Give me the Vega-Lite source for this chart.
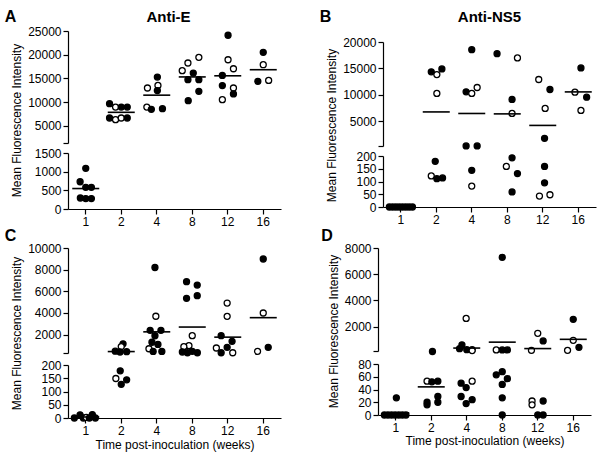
{
  "$schema": "https://vega.github.io/schema/vega-lite/v6.json",
  "background": "white",
  "padding": {"left": 4, "top": 9, "right": 4, "bottom": 2},
  "config": {
    "view": {"stroke": null},
    "font": "Liberation Sans",
    "axis": {"domainColor": "black", "tickColor": "black", "labelColor": "black", "titleColor": "black", "labelFontSize": 12, "titleFontSize": 12, "titleFontWeight": "normal", "grid": false, "tickSize": 5, "domainWidth": 1.2, "tickWidth": 1.2, "labelPadding": 2, "labelOverlap": false, "labelFont": "Liberation Sans", "titleFont": "Liberation Sans"},
    "title": {"color": "black", "font": "Liberation Sans", "fontWeight": "bold"},
    "tick": {"opacity": 1}
  },
  "datasets": {
    "pts": [
      {"panel":"A","week":1,"mfi":1090,"ring":"filled","slot":0},
      {"panel":"A","week":1,"mfi":730,"ring":"filled","slot":-0.94},
      {"panel":"A","week":1,"mfi":580,"ring":"filled","slot":0},
      {"panel":"A","week":1,"mfi":580,"ring":"filled","slot":0.94},
      {"panel":"A","week":1,"mfi":295,"ring":"filled","slot":-0.9},
      {"panel":"A","week":1,"mfi":280,"ring":"filled","slot":0},
      {"panel":"A","week":1,"mfi":280,"ring":"filled","slot":0.94},
      {"panel":"A","week":2,"mfi":9690,"ring":"filled","slot":-1.95},
      {"panel":"A","week":2,"mfi":8990,"ring":"open","slot":-0.95},
      {"panel":"A","week":2,"mfi":8990,"ring":"filled","slot":0},
      {"panel":"A","week":2,"mfi":8990,"ring":"filled","slot":1},
      {"panel":"A","week":2,"mfi":6680,"ring":"filled","slot":-1.95},
      {"panel":"A","week":2,"mfi":6330,"ring":"open","slot":-0.95},
      {"panel":"A","week":2,"mfi":6680,"ring":"open","slot":0},
      {"panel":"A","week":2,"mfi":6680,"ring":"filled","slot":1},
      {"panel":"A","week":4,"mfi":15300,"ring":"filled","slot":0.1},
      {"panel":"A","week":4,"mfi":13000,"ring":"open","slot":-1.55},
      {"panel":"A","week":4,"mfi":13550,"ring":"open","slot":0.2},
      {"panel":"A","week":4,"mfi":12450,"ring":"filled","slot":0.1},
      {"panel":"A","week":4,"mfi":8990,"ring":"open","slot":-1.65},
      {"panel":"A","week":4,"mfi":8500,"ring":"filled","slot":-0.9},
      {"panel":"A","week":4,"mfi":8650,"ring":"filled","slot":0.95},
      {"panel":"A","week":8,"mfi":16650,"ring":"open","slot":-1.67},
      {"panel":"A","week":8,"mfi":18260,"ring":"open","slot":-0.72},
      {"panel":"A","week":8,"mfi":19450,"ring":"open","slot":1.1},
      {"panel":"A","week":8,"mfi":16150,"ring":"filled","slot":0.17},
      {"panel":"A","week":8,"mfi":14750,"ring":"filled","slot":-0.72},
      {"panel":"A","week":8,"mfi":14750,"ring":"filled","slot":1.1},
      {"panel":"A","week":8,"mfi":12300,"ring":"filled","slot":1.1},
      {"panel":"A","week":8,"mfi":10330,"ring":"filled","slot":-0.67},
      {"panel":"A","week":12,"mfi":24100,"ring":"filled","slot":0.05},
      {"panel":"A","week":12,"mfi":18950,"ring":"open","slot":0.05},
      {"panel":"A","week":12,"mfi":17050,"ring":"open","slot":0.95},
      {"panel":"A","week":12,"mfi":15650,"ring":"filled","slot":-0.9},
      {"panel":"A","week":12,"mfi":13500,"ring":"filled","slot":-0.9},
      {"panel":"A","week":12,"mfi":13000,"ring":"open","slot":0.95},
      {"panel":"A","week":12,"mfi":11750,"ring":"filled","slot":0.95},
      {"panel":"A","week":12,"mfi":10550,"ring":"open","slot":-0.9},
      {"panel":"A","week":16,"mfi":20500,"ring":"filled","slot":0},
      {"panel":"A","week":16,"mfi":17900,"ring":"open","slot":0},
      {"panel":"A","week":16,"mfi":14400,"ring":"filled","slot":-0.9},
      {"panel":"A","week":16,"mfi":14600,"ring":"open","slot":0.9},

      {"panel":"B","week":1,"mfi":0,"ring":"filled","slot":-1.9},
      {"panel":"B","week":1,"mfi":0,"ring":"filled","slot":-1.35},
      {"panel":"B","week":1,"mfi":0,"ring":"filled","slot":-0.8},
      {"panel":"B","week":1,"mfi":0,"ring":"filled","slot":-0.25},
      {"panel":"B","week":1,"mfi":0,"ring":"filled","slot":0.3},
      {"panel":"B","week":1,"mfi":0,"ring":"filled","slot":0.85},
      {"panel":"B","week":1,"mfi":0,"ring":"filled","slot":1.4},
      {"panel":"B","week":1,"mfi":0,"ring":"filled","slot":1.95},
      {"panel":"B","week":2,"mfi":14330,"ring":"filled","slot":-0.83},
      {"panel":"B","week":2,"mfi":14890,"ring":"filled","slot":0.94},
      {"panel":"B","week":2,"mfi":13820,"ring":"open","slot":0.1},
      {"panel":"B","week":2,"mfi":10230,"ring":"open","slot":0.1},
      {"panel":"B","week":2,"mfi":179,"ring":"filled","slot":-0.17},
      {"panel":"B","week":2,"mfi":122,"ring":"open","slot":-0.83},
      {"panel":"B","week":2,"mfi":111,"ring":"filled","slot":0.1},
      {"panel":"B","week":2,"mfi":114,"ring":"filled","slot":1.05},
      {"panel":"B","week":4,"mfi":18550,"ring":"filled","slot":0},
      {"panel":"B","week":4,"mfi":10540,"ring":"filled","slot":-0.94},
      {"panel":"B","week":4,"mfi":10230,"ring":"open","slot":0},
      {"panel":"B","week":4,"mfi":11360,"ring":"open","slot":0.9},
      {"panel":"B","week":4,"mfi":268,"ring":"filled","slot":-0.94},
      {"panel":"B","week":4,"mfi":272,"ring":"filled","slot":0.9},
      {"panel":"B","week":4,"mfi":144,"ring":"filled","slot":0},
      {"panel":"B","week":4,"mfi":82,"ring":"open","slot":0},
      {"panel":"B","week":8,"mfi":17790,"ring":"filled","slot":-1.7},
      {"panel":"B","week":8,"mfi":16970,"ring":"open","slot":1.7},
      {"panel":"B","week":8,"mfi":9090,"ring":"filled","slot":0.8},
      {"panel":"B","week":8,"mfi":6440,"ring":"open","slot":0.8},
      {"panel":"B","week":8,"mfi":193,"ring":"filled","slot":0.8},
      {"panel":"B","week":8,"mfi":159,"ring":"open","slot":-0.15},
      {"panel":"B","week":8,"mfi":131,"ring":"filled","slot":1.7},
      {"panel":"B","week":8,"mfi":59,"ring":"filled","slot":0.8},
      {"panel":"B","week":12,"mfi":12880,"ring":"open","slot":-0.67},
      {"panel":"B","week":12,"mfi":10980,"ring":"filled","slot":1.2},
      {"panel":"B","week":12,"mfi":7390,"ring":"open","slot":0.4},
      {"panel":"B","week":12,"mfi":1716,"ring":"filled","slot":0.3},
      {"panel":"B","week":12,"mfi":159,"ring":"filled","slot":0.3},
      {"panel":"B","week":12,"mfi":95,"ring":"filled","slot":0.3},
      {"panel":"B","week":12,"mfi":43,"ring":"open","slot":-0.55},
      {"panel":"B","week":12,"mfi":48,"ring":"open","slot":1.2},
      {"panel":"B","week":16,"mfi":15080,"ring":"filled","slot":0.45},
      {"panel":"B","week":16,"mfi":10480,"ring":"open","slot":-0.55},
      {"panel":"B","week":16,"mfi":9530,"ring":"filled","slot":1.4},
      {"panel":"B","week":16,"mfi":7010,"ring":"open","slot":0.45},

      {"panel":"C","week":1,"mfi":0,"ring":"filled","slot":-1.9},
      {"panel":"C","week":1,"mfi":12,"ring":"filled","slot":-0.95},
      {"panel":"C","week":1,"mfi":0,"ring":"filled","slot":-0.4},
      {"panel":"C","week":1,"mfi":2,"ring":"open","slot":0.1},
      {"panel":"C","week":1,"mfi":0,"ring":"filled","slot":0.6},
      {"panel":"C","week":1,"mfi":13,"ring":"filled","slot":1.1},
      {"panel":"C","week":1,"mfi":0,"ring":"filled","slot":1.6},
      {"panel":"C","week":2,"mfi":1150,"ring":"filled","slot":0.3},
      {"panel":"C","week":2,"mfi":900,"ring":"open","slot":0},
      {"panel":"C","week":2,"mfi":480,"ring":"filled","slot":-1.0},
      {"panel":"C","week":2,"mfi":400,"ring":"filled","slot":-0.2},
      {"panel":"C","week":2,"mfi":430,"ring":"filled","slot":0.9},
      {"panel":"C","week":2,"mfi":178,"ring":"filled","slot":-0.17},
      {"panel":"C","week":2,"mfi":149,"ring":"open","slot":-0.9},
      {"panel":"C","week":2,"mfi":144,"ring":"filled","slot":0.9},
      {"panel":"C","week":2,"mfi":127,"ring":"filled","slot":0},
      {"panel":"C","week":4,"mfi":8200,"ring":"filled","slot":-0.3},
      {"panel":"C","week":4,"mfi":3700,"ring":"open","slot":-0.15},
      {"panel":"C","week":4,"mfi":2400,"ring":"filled","slot":-1.1},
      {"panel":"C","week":4,"mfi":2400,"ring":"filled","slot":0.7},
      {"panel":"C","week":4,"mfi":1900,"ring":"filled","slot":-0.3},
      {"panel":"C","week":4,"mfi":1300,"ring":"filled","slot":-0.8},
      {"panel":"C","week":4,"mfi":1100,"ring":"filled","slot":0.2},
      {"panel":"C","week":4,"mfi":700,"ring":"open","slot":-1.3},
      {"panel":"C","week":4,"mfi":450,"ring":"filled","slot":-0.6},
      {"panel":"C","week":4,"mfi":450,"ring":"filled","slot":0.85},
      {"panel":"C","week":8,"mfi":6890,"ring":"filled","slot":-0.95},
      {"panel":"C","week":8,"mfi":6580,"ring":"filled","slot":0.83},
      {"panel":"C","week":8,"mfi":5350,"ring":"filled","slot":-0.95},
      {"panel":"C","week":8,"mfi":5600,"ring":"filled","slot":0.83},
      {"panel":"C","week":8,"mfi":1910,"ring":"open","slot":0},
      {"panel":"C","week":8,"mfi":985,"ring":"open","slot":-0.55},
      {"panel":"C","week":8,"mfi":890,"ring":"open","slot":-1.4},
      {"panel":"C","week":8,"mfi":400,"ring":"filled","slot":-1.65},
      {"panel":"C","week":8,"mfi":330,"ring":"filled","slot":-0.8},
      {"panel":"C","week":8,"mfi":460,"ring":"filled","slot":0},
      {"panel":"C","week":8,"mfi":330,"ring":"filled","slot":0.85},
      {"panel":"C","week":12,"mfi":4920,"ring":"open","slot":-0.1},
      {"panel":"C","week":12,"mfi":3690,"ring":"open","slot":-0.1},
      {"panel":"C","week":12,"mfi":1910,"ring":"filled","slot":-1.1},
      {"panel":"C","week":12,"mfi":1385,"ring":"filled","slot":0.72},
      {"panel":"C","week":12,"mfi":770,"ring":"open","slot":-1.9},
      {"panel":"C","week":12,"mfi":830,"ring":"filled","slot":-0.1},
      {"panel":"C","week":12,"mfi":330,"ring":"filled","slot":-1.1},
      {"panel":"C","week":12,"mfi":330,"ring":"open","slot":0.83},
      {"panel":"C","week":16,"mfi":8985,"ring":"filled","slot":0},
      {"panel":"C","week":16,"mfi":4000,"ring":"open","slot":0},
      {"panel":"C","week":16,"mfi":460,"ring":"open","slot":-0.95},
      {"panel":"C","week":16,"mfi":830,"ring":"filled","slot":0.83},

      {"panel":"D","week":1,"mfi":27,"ring":"filled","slot":0.1},
      {"panel":"D","week":1,"mfi":0,"ring":"filled","slot":-1.9},
      {"panel":"D","week":1,"mfi":0,"ring":"filled","slot":-1.3},
      {"panel":"D","week":1,"mfi":0,"ring":"filled","slot":-0.7},
      {"panel":"D","week":1,"mfi":0,"ring":"filled","slot":-0.1},
      {"panel":"D","week":1,"mfi":0,"ring":"filled","slot":0.5},
      {"panel":"D","week":1,"mfi":0,"ring":"filled","slot":1.1},
      {"panel":"D","week":1,"mfi":0,"ring":"filled","slot":1.7},
      {"panel":"D","week":2,"mfi":110,"ring":"filled","slot":0.2},
      {"panel":"D","week":2,"mfi":53,"ring":"open","slot":-0.7},
      {"panel":"D","week":2,"mfi":52,"ring":"filled","slot":0.1},
      {"panel":"D","week":2,"mfi":53,"ring":"filled","slot":1.1},
      {"panel":"D","week":2,"mfi":29,"ring":"filled","slot":1.1},
      {"panel":"D","week":2,"mfi":20,"ring":"filled","slot":-0.7},
      {"panel":"D","week":2,"mfi":16,"ring":"filled","slot":-0.7},
      {"panel":"D","week":2,"mfi":20,"ring":"filled","slot":1.1},
      {"panel":"D","week":4,"mfi":2636,"ring":"open","slot":-0.1},
      {"panel":"D","week":4,"mfi":620,"ring":"filled","slot":-0.8},
      {"panel":"D","week":4,"mfi":330,"ring":"filled","slot":-1.2},
      {"panel":"D","week":4,"mfi":250,"ring":"filled","slot":0},
      {"panel":"D","week":4,"mfi":250,"ring":"filled","slot":0.9},
      {"panel":"D","week":4,"mfi":180,"ring":"open","slot":0.9},
      {"panel":"D","week":4,"mfi":53,"ring":"open","slot":0.9},
      {"panel":"D","week":4,"mfi":50,"ring":"filled","slot":-0.94},
      {"panel":"D","week":4,"mfi":43,"ring":"filled","slot":-0.1},
      {"panel":"D","week":4,"mfi":29,"ring":"filled","slot":-0.94},
      {"panel":"D","week":4,"mfi":24,"ring":"filled","slot":0.9},
      {"panel":"D","week":4,"mfi":18,"ring":"filled","slot":-0.1},
      {"panel":"D","week":8,"mfi":7290,"ring":"filled","slot":0},
      {"panel":"D","week":8,"mfi":230,"ring":"open","slot":-1.0},
      {"panel":"D","week":8,"mfi":230,"ring":"filled","slot":0},
      {"panel":"D","week":8,"mfi":230,"ring":"filled","slot":0.85},
      {"panel":"D","week":8,"mfi":68,"ring":"filled","slot":0},
      {"panel":"D","week":8,"mfi":63,"ring":"filled","slot":-1.0},
      {"panel":"D","week":8,"mfi":57,"ring":"filled","slot":0.85},
      {"panel":"D","week":8,"mfi":48,"ring":"filled","slot":0},
      {"panel":"D","week":8,"mfi":27,"ring":"filled","slot":0},
      {"panel":"D","week":8,"mfi":0,"ring":"filled","slot":0},
      {"panel":"D","week":12,"mfi":1500,"ring":"open","slot":0},
      {"panel":"D","week":12,"mfi":916,"ring":"filled","slot":0.9},
      {"panel":"D","week":12,"mfi":200,"ring":"open","slot":-1.05},
      {"panel":"D","week":12,"mfi":22,"ring":"open","slot":-0.95},
      {"panel":"D","week":12,"mfi":16,"ring":"open","slot":-0.95},
      {"panel":"D","week":12,"mfi":22,"ring":"filled","slot":0.9},
      {"panel":"D","week":12,"mfi":0,"ring":"filled","slot":0},
      {"panel":"D","week":12,"mfi":0,"ring":"filled","slot":0.9},
      {"panel":"D","week":16,"mfi":2561,"ring":"filled","slot":0},
      {"panel":"D","week":16,"mfi":967,"ring":"open","slot":0},
      {"panel":"D","week":16,"mfi":200,"ring":"open","slot":-0.95},
      {"panel":"D","week":16,"mfi":430,"ring":"filled","slot":0.95}
    ]
  },
  "spacing": 1,
  "vconcat": [
    {
      "hconcat": [
        {
          "title": {"text": "A", "anchor": "start", "fontSize": 16, "offset": -15, "dx": -6},
          "bounds": "flush",
          "spacing": 10,
          "vconcat": [
            {
              "title": {"text": "Anti-E", "fontSize": 15, "anchor": "middle", "frame": "group", "offset": 0, "dx": -6},
              "width": 213, "height": 112,
              "data": {"name": "pts"},
              "transform": [{"filter": "datum.panel == 'A'"}],
              "encoding": {
                "x": {"field": "week", "type": "ordinal", "scale": {"domain": [1,2,4,8,12,16], "paddingInner": 0, "paddingOuter": 0}, "axis": null},
                "y": {"field": "mfi", "type": "quantitative", "scale": {"domain": [1420, 25000], "nice": false, "zero": false},
                      "axis": {"values": [1420,5000,10000,15000,20000,25000], "format": "d", "labelOverlap": false, "labelExpr": "datum.index == 0 ? '' : datum.label", "title": "Mean Fluorescence Intensity", "titleY": 89}}
              },
              "layer": [
                {
                  "transform": [{"filter": "datum.mfi > 1500"}],
                  "mark": {"type": "circle", "size": 36, "stroke": "black", "strokeWidth": 1.3, "opacity": 1},
                  "encoding": {
                    "xOffset": {"field": "slot", "type": "quantitative", "scale": {"domain": [-3,3], "range": [-0.25,35.75]}},
                    "fill": {"field": "ring", "type": "nominal", "scale": {"domain": ["filled","open"], "range": ["black","white"]}, "legend": null}
                  }
                },
                {
                  "transform": [{"aggregate": [{"op": "mean", "field": "mfi", "as": "mfi"}], "groupby": ["week"]}, {"filter": "datum.mfi > 1500"}],
                  "mark": {"type": "tick", "color": "black", "opacity": 1, "thickness": 1.6, "size": 27}
                }
              ]
            },
            {
              "width": 213, "height": 56,
              "data": {"name": "pts"},
              "transform": [{"filter": "datum.panel == 'A'"}],
              "encoding": {
                "x": {"field": "week", "type": "ordinal", "scale": {"domain": [1,2,4,8,12,16], "paddingInner": 0, "paddingOuter": 0}, "axis": {"title": null, "labelAngle": 0, "labelOverlap": false}},
                "y": {"field": "mfi", "type": "quantitative", "scale": {"domain": [0, 1500], "nice": false, "zero": false},
                      "axis": {"values": [0,500,1000,1500], "format": "d", "labelOverlap": false, "title": null}}
              },
              "layer": [
                {
                  "transform": [{"filter": "datum.mfi <= 1500"}],
                  "mark": {"type": "circle", "size": 36, "stroke": "black", "strokeWidth": 1.3, "opacity": 1},
                  "encoding": {
                    "xOffset": {"field": "slot", "type": "quantitative", "scale": {"domain": [-3,3], "range": [-0.25,35.75]}},
                    "fill": {"field": "ring", "type": "nominal", "scale": {"domain": ["filled","open"], "range": ["black","white"]}, "legend": null}
                  }
                },
                {
                  "transform": [{"aggregate": [{"op": "mean", "field": "mfi", "as": "mfi"}], "groupby": ["week"]}, {"filter": "datum.mfi <= 1500"}],
                  "mark": {"type": "tick", "color": "black", "opacity": 1, "thickness": 1.6, "size": 27}
                }
              ]
            }
          ]
        },
        {
          "title": {"text": "B", "anchor": "start", "fontSize": 16, "offset": -15, "dx": -6},
          "bounds": "flush",
          "spacing": 10,
          "vconcat": [
            {
              "title": {"text": "Anti-NS5", "fontSize": 15, "anchor": "middle", "frame": "group", "offset": 6},
              "width": 213, "height": 1,
              "data": {"values": []},
              "mark": "point"
            },
            {
              "width": 213, "height": 104,
              "data": {"name": "pts"},
              "transform": [{"filter": "datum.panel == 'B'"}],
              "encoding": {
                "x": {"field": "week", "type": "ordinal", "scale": {"domain": [1,2,4,8,12,16], "paddingInner": 0, "paddingOuter": 0}, "axis": null},
                "y": {"field": "mfi", "type": "quantitative", "scale": {"domain": [256, 20000], "nice": false, "zero": false},
                      "axis": {"values": [256,5000,10000,15000,20000], "format": "d", "labelOverlap": false, "labelExpr": "datum.index == 0 ? '' : datum.label", "title": "Mean Fluorescence Intensity", "titleY": 83}}
              },
              "layer": [
                {
                  "transform": [{"filter": "datum.mfi > 200"}],
                  "mark": {"type": "circle", "size": 36, "stroke": "black", "strokeWidth": 1.3, "opacity": 1},
                  "encoding": {
                    "xOffset": {"field": "slot", "type": "quantitative", "scale": {"domain": [-3,3], "range": [-0.25,35.75]}},
                    "fill": {"field": "ring", "type": "nominal", "scale": {"domain": ["filled","open"], "range": ["black","white"]}, "legend": null}
                  }
                },
                {
                  "transform": [{"aggregate": [{"op": "mean", "field": "mfi", "as": "mfi"}], "groupby": ["week"]}, {"filter": "datum.mfi > 200"}],
                  "mark": {"type": "tick", "color": "black", "opacity": 1, "thickness": 1.6, "size": 27}
                }
              ]
            },
            {
              "width": 213, "height": 51,
              "data": {"name": "pts"},
              "transform": [{"filter": "datum.panel == 'B'"}],
              "encoding": {
                "x": {"field": "week", "type": "ordinal", "scale": {"domain": [1,2,4,8,12,16], "paddingInner": 0, "paddingOuter": 0}, "axis": {"title": null, "labelAngle": 0, "labelOverlap": false}},
                "y": {"field": "mfi", "type": "quantitative", "scale": {"domain": [0, 200], "nice": false, "zero": false},
                      "axis": {"values": [0,50,100,150,200], "format": "d", "labelOverlap": false, "title": null}}
              },
              "layer": [
                {
                  "transform": [{"filter": "datum.mfi <= 200"}],
                  "mark": {"type": "circle", "size": 36, "stroke": "black", "strokeWidth": 1.3, "opacity": 1},
                  "encoding": {
                    "xOffset": {"field": "slot", "type": "quantitative", "scale": {"domain": [-3,3], "range": [-0.25,35.75]}},
                    "fill": {"field": "ring", "type": "nominal", "scale": {"domain": ["filled","open"], "range": ["black","white"]}, "legend": null}
                  }
                },
                {
                  "transform": [{"aggregate": [{"op": "mean", "field": "mfi", "as": "mfi"}], "groupby": ["week"]}, {"filter": "datum.mfi <= 200"}],
                  "mark": {"type": "tick", "color": "black", "opacity": 1, "thickness": 1.6, "size": 27}
                }
              ]
            }
          ]
        }
      ],
      "align": "none",
      "spacing": 38
    },
    {
      "hconcat": [
        {
          "title": {"text": "C", "anchor": "start", "fontSize": 16, "offset": -2, "dx": -6},
          "bounds": "flush",
          "spacing": 12,
          "vconcat": [
            {
              "width": 213, "height": 105,
              "data": {"name": "pts"},
              "transform": [{"filter": "datum.panel == 'C'"}],
              "encoding": {
                "x": {"field": "week", "type": "ordinal", "scale": {"domain": [1,2,4,8,12,16], "paddingInner": 0, "paddingOuter": 0}, "axis": null},
                "y": {"field": "mfi", "type": "quantitative", "scale": {"domain": [307, 10000], "nice": false, "zero": false},
                      "axis": {"values": [307,2000,4000,6000,8000,10000], "format": "d", "labelOverlap": false, "labelExpr": "datum.index == 0 ? '' : datum.label", "title": "Mean Fluorescence Intensity", "titleY": 85}}
              },
              "layer": [
                {
                  "transform": [{"filter": "datum.mfi > 200"}],
                  "mark": {"type": "circle", "size": 36, "stroke": "black", "strokeWidth": 1.3, "opacity": 1},
                  "encoding": {
                    "xOffset": {"field": "slot", "type": "quantitative", "scale": {"domain": [-3,3], "range": [-0.25,35.75]}},
                    "fill": {"field": "ring", "type": "nominal", "scale": {"domain": ["filled","open"], "range": ["black","white"]}, "legend": null}
                  }
                },
                {
                  "transform": [{"aggregate": [{"op": "mean", "field": "mfi", "as": "mfi"}], "groupby": ["week"]}, {"filter": "datum.mfi > 200"}],
                  "mark": {"type": "tick", "color": "black", "opacity": 1, "thickness": 1.6, "size": 27}
                }
              ]
            },
            {
              "width": 213, "height": 53,
              "data": {"name": "pts"},
              "transform": [{"filter": "datum.panel == 'C'"}],
              "encoding": {
                "x": {"field": "week", "type": "ordinal", "scale": {"domain": [1,2,4,8,12,16], "paddingInner": 0, "paddingOuter": 0}, "axis": {"title": "Time post-inoculation (weeks)", "labelAngle": 0, "labelOverlap": false, "titlePadding": 3}},
                "y": {"field": "mfi", "type": "quantitative", "scale": {"domain": [0, 200], "nice": false, "zero": false},
                      "axis": {"values": [0,50,100,150,200], "format": "d", "labelOverlap": false, "title": null}}
              },
              "layer": [
                {
                  "transform": [{"filter": "datum.mfi <= 200"}],
                  "mark": {"type": "circle", "size": 36, "stroke": "black", "strokeWidth": 1.3, "opacity": 1},
                  "encoding": {
                    "xOffset": {"field": "slot", "type": "quantitative", "scale": {"domain": [-3,3], "range": [-0.25,35.75]}},
                    "fill": {"field": "ring", "type": "nominal", "scale": {"domain": ["filled","open"], "range": ["black","white"]}, "legend": null}
                  }
                },
                {
                  "transform": [{"aggregate": [{"op": "mean", "field": "mfi", "as": "mfi"}], "groupby": ["week"]}, {"filter": "datum.mfi <= 200"}],
                  "mark": {"type": "tick", "color": "black", "opacity": 1, "thickness": 1.6, "size": 27}
                }
              ]
            }
          ]
        },
        {
          "title": {"text": "D", "anchor": "start", "fontSize": 16, "offset": -2, "dx": -6},
          "bounds": "flush",
          "spacing": 13,
          "vconcat": [
            {
              "width": 213, "height": 103,
              "data": {"name": "pts"},
              "transform": [{"filter": "datum.panel == 'D'"}],
              "encoding": {
                "x": {"field": "week", "type": "ordinal", "scale": {"domain": [1,2,4,8,12,16], "paddingInner": 0, "paddingOuter": 0}, "axis": null},
                "y": {"field": "mfi", "type": "quantitative", "scale": {"domain": [150, 8000], "nice": false, "zero": false},
                      "axis": {"values": [150,2000,4000,6000,8000], "format": "d", "labelOverlap": false, "labelExpr": "datum.index == 0 ? '' : datum.label", "title": "Mean Fluorescence Intensity", "titleY": 83}}
              },
              "layer": [
                {
                  "transform": [{"filter": "datum.mfi > 80"}],
                  "mark": {"type": "circle", "size": 36, "stroke": "black", "strokeWidth": 1.3, "opacity": 1},
                  "encoding": {
                    "xOffset": {"field": "slot", "type": "quantitative", "scale": {"domain": [-3,3], "range": [-0.25,35.75]}},
                    "fill": {"field": "ring", "type": "nominal", "scale": {"domain": ["filled","open"], "range": ["black","white"]}, "legend": null}
                  }
                },
                {
                  "transform": [{"aggregate": [{"op": "mean", "field": "mfi", "as": "mfi"}], "groupby": ["week"]}, {"filter": "datum.mfi > 80"}],
                  "mark": {"type": "tick", "color": "black", "opacity": 1, "thickness": 1.6, "size": 27}
                }
              ]
            },
            {
              "width": 213, "height": 51,
              "data": {"name": "pts"},
              "transform": [{"filter": "datum.panel == 'D'"}],
              "encoding": {
                "x": {"field": "week", "type": "ordinal", "scale": {"domain": [1,2,4,8,12,16], "paddingInner": 0, "paddingOuter": 0}, "axis": {"title": "Time  post-inoculation (weeks)", "labelAngle": 0, "labelOverlap": false, "titlePadding": 2}},
                "y": {"field": "mfi", "type": "quantitative", "scale": {"domain": [0, 80], "nice": false, "zero": false},
                      "axis": {"values": [0,20,40,60,80], "format": "d", "labelOverlap": false, "title": null}}
              },
              "layer": [
                {
                  "transform": [{"filter": "datum.mfi <= 80"}],
                  "mark": {"type": "circle", "size": 36, "stroke": "black", "strokeWidth": 1.3, "opacity": 1},
                  "encoding": {
                    "xOffset": {"field": "slot", "type": "quantitative", "scale": {"domain": [-3,3], "range": [-0.25,35.75]}},
                    "fill": {"field": "ring", "type": "nominal", "scale": {"domain": ["filled","open"], "range": ["black","white"]}, "legend": null}
                  }
                },
                {
                  "transform": [{"aggregate": [{"op": "mean", "field": "mfi", "as": "mfi"}], "groupby": ["week"]}, {"filter": "datum.mfi <= 80"}],
                  "mark": {"type": "tick", "color": "black", "opacity": 1, "thickness": 1.6, "size": 27}
                }
              ]
            }
          ]
        }
      ],
      "align": "none",
      "spacing": 40
    }
  ]
}
